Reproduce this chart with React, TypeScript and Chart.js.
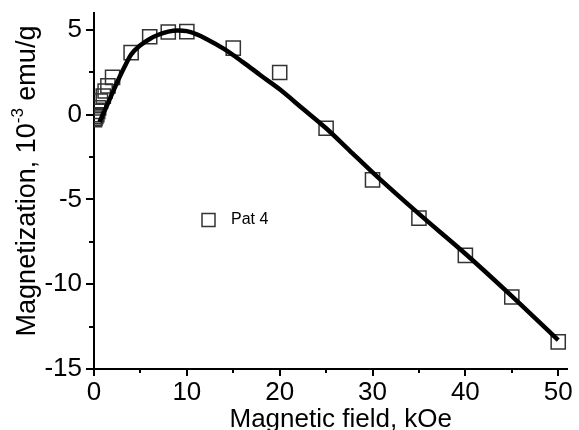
import React, { useEffect, useRef } from "react";
import { Chart, registerables } from "chart.js";

Chart.register(...registerables);

// Measured data points (Pat 4)
const fieldKOe = [0.05, 0.1, 0.2, 0.3, 0.4, 0.5, 0.7, 1.0, 1.2, 1.5, 2.0, 4, 6, 8, 10, 15, 20, 25, 30, 35, 40, 45, 50];
const magnetization = [-0.3, -0.2, -0.1, 0.0, 0.2, 0.4, 0.8, 1.1, 1.4, 1.7, 2.2, 3.66, 4.6, 4.88, 4.9, 3.93, 2.49, -0.8, -3.84, -6.1, -8.3, -10.75, -13.4];

// Fitted curve
const fitField = [0.6, 1.2, 1.8, 2.4, 3.0, 3.5, 4.0, 5.0, 6.0, 7.0, 8.0, 9.0, 10.0, 11.0, 12.0, 14.0, 16.0, 18.0, 20.0, 22.5, 25, 27.5, 30, 35, 40, 45, 50];
const fitMagnetization = [-0.42, 0.3, 1.05, 1.8, 2.5, 3.05, 3.55, 4.1, 4.47, 4.73, 4.9, 4.97, 4.93, 4.75, 4.5, 3.88, 3.12, 2.3, 1.5, 0.35, -0.8, -2.1, -3.4, -5.85, -8.2, -10.7, -13.3];

const xTicks = [0, 10, 20, 30, 40, 50];
const xMinorTicks = [5, 15, 25, 35, 45];
const yTicks = [-15, -10, -5, 0, 5];
const yMinorTicks = [-12.5, -7.5, -2.5, 2.5];

const seriesLabel = "Pat 4";
const xTitle = "Magnetic field, kOe";
const yTitleMain = "Magnetization, 10";
const yTitleSup = "-3";
const yTitleEnd = " emu/g";

const FONT = '"Liberation Sans", Arial, Helvetica, sans-serif';

const decorPlugin = {
  id: "decor",
  afterDraw(chart: any) {
    const ctx = chart.ctx as CanvasRenderingContext2D;
    const area = chart.chartArea;
    const xs = chart.scales.x;
    const ys = chart.scales.y;
    ctx.save();
    ctx.strokeStyle = "#000";
    ctx.lineWidth = 2;
    const drawX = (vals: number[], len: number) => {
      vals.forEach((v) => {
        const px = Math.round(xs.getPixelForValue(v));
        ctx.beginPath();
        ctx.moveTo(px, area.bottom);
        ctx.lineTo(px, area.bottom + len);
        ctx.stroke();
      });
    };
    const drawY = (vals: number[], len: number) => {
      vals.forEach((v) => {
        const py = Math.round(ys.getPixelForValue(v));
        ctx.beginPath();
        ctx.moveTo(area.left, py);
        ctx.lineTo(area.left - len, py);
        ctx.stroke();
      });
    };
    drawX(xTicks, 7);
    drawX(xMinorTicks, 4);
    drawY(yTicks, 8);
    drawY(yMinorTicks, 5);

    // x title
    ctx.fillStyle = "#000";
    ctx.font = `26px ${FONT}`;
    ctx.textAlign = "center";
    ctx.textBaseline = "alphabetic";
    ctx.fillText(xTitle, (area.left + area.right) / 2 + 10, area.bottom + 58);

    // y title with superscript
    ctx.save();
    ctx.translate(35, (area.top + area.bottom) / 2 - 10);
    ctx.rotate(-Math.PI / 2);
    ctx.font = `27px ${FONT}`;
    const w1 = ctx.measureText(yTitleMain).width;
    const w3 = ctx.measureText(yTitleEnd).width;
    ctx.font = `17px ${FONT}`;
    const w2 = ctx.measureText(yTitleSup).width;
    const total = w1 + w2 + w3;
    let x0 = -total / 2;
    ctx.textAlign = "left";
    ctx.font = `27px ${FONT}`;
    ctx.fillText(yTitleMain, x0, 0);
    x0 += w1;
    ctx.font = `17px ${FONT}`;
    ctx.fillText(yTitleSup, x0, -12);
    x0 += w2;
    ctx.font = `27px ${FONT}`;
    ctx.fillText(yTitleEnd, x0, 0);
    ctx.restore();

    // legend
    ctx.strokeStyle = "#333";
    ctx.lineWidth = 1.5;
    ctx.strokeRect(202, 213.5, 13, 13);
    ctx.fillStyle = "#000";
    ctx.font = `16px ${FONT}`;
    ctx.textAlign = "left";
    ctx.textBaseline = "middle";
    ctx.fillText(seriesLabel, 231, 220);
    ctx.restore();
  },
};

export default function App() {
  const ref = useRef<HTMLCanvasElement | null>(null);
  useEffect(() => {
    if (!ref.current) return;
    const chart = new Chart(ref.current, {
      type: "scatter",
      data: {
        datasets: [
          {
            label: "fit",
            data: fitField.map((x, i) => ({ x, y: fitMagnetization[i] })),
            showLine: true,
            borderColor: "#000",
            borderWidth: 4.5,
            pointRadius: 0,
            cubicInterpolationMode: "monotone",
            order: 0,
          } as any,
          {
            label: seriesLabel,
            data: fieldKOe.map((x, i) => ({ x, y: magnetization[i] })),
            pointStyle: "rect",
            pointRadius: 10,
            pointBorderWidth: 1.5,
            pointBorderColor: "#333",
            pointBackgroundColor: "rgba(0,0,0,0)",
            showLine: false,
            order: 1,
          } as any,
        ],
      },
      options: {
        responsive: false,
        animation: false,
        events: [],
        layout: { padding: { top: 13, right: 8, left: 0, bottom: 0 } },
        plugins: { legend: { display: false }, tooltip: { enabled: false } },
        scales: {
          x: {
            type: "linear",
            min: 0,
            max: 51,
            afterBuildTicks: (s: any) => {
              s.ticks = xTicks.map((v) => ({ value: v }));
            },
            afterFit: (s: any) => {
              s.height = 61;
              s.paddingLeft = 0;
              s.paddingRight = 0;
            },
            grid: { display: true, drawOnChartArea: false, drawTicks: false },
            border: { display: true, color: "#000", width: 2 },
            ticks: {
              color: "#000",
              padding: 8,
              font: { family: FONT, size: 26 },
              maxRotation: 0,
              autoSkip: false,
            },
          },
          y: {
            type: "linear",
            min: -15,
            max: 6,
            afterBuildTicks: (s: any) => {
              s.ticks = yTicks.map((v) => ({ value: v }));
            },
            afterFit: (s: any) => {
              s.width = 94;
              s.paddingTop = 0;
              s.paddingBottom = 0;
            },
            grid: { display: true, drawOnChartArea: false, drawTicks: false },
            border: { display: true, color: "#000", width: 2 },
            ticks: {
              color: "#000",
              padding: 12,
              font: { family: FONT, size: 26 },
              autoSkip: false,
            },
          },
        },
      },
      plugins: [decorPlugin],
    });
    return () => chart.destroy();
  }, []);
  return (
    <div style={{ position: "absolute", left: 0, top: 0, width: 579, height: 430, background: "#fff" }}>
      <canvas ref={ref} width={579} height={430} style={{ display: "block" }} />
    </div>
  );
}
